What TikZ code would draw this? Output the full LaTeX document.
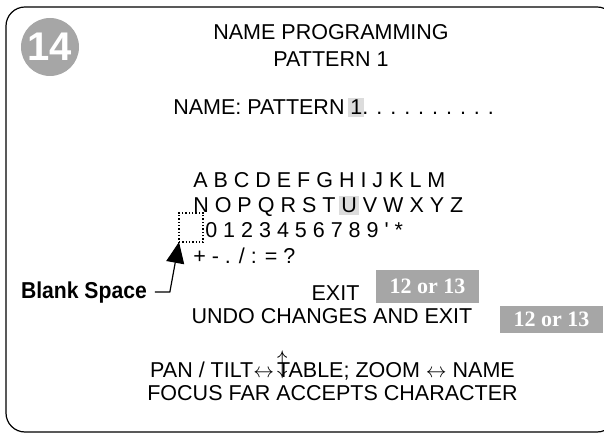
\documentclass[tikz,border=0pt]{standalone}
\usepackage{fontspec}
\setmainfont{Liberation Sans}
\newfontfamily\boxfont{Liberation Serif}
\newfontfamily\narrowfont[FakeStretch=0.92]{Liberation Sans}
\usetikzlibrary{arrows.meta}
\definecolor{stepgray}{HTML}{A6A6A6}
\definecolor{hlgray}{HTML}{DCDCDC}
\newcommand{\hlchar}[1]{{\setlength{\fboxsep}{2pt}\hspace{-2pt}\colorbox{hlgray}{#1}\hspace{-2pt}}}

\begin{document}
\begin{tikzpicture}[x=1pt, y=-1pt, >={Triangle[length=21pt, width=18pt]}, semithick]
            \tikzset{
                screen/.style={font=\fontsize{21.5}{25}\selectfont, inner sep=0pt},
                goto/.style={fill=stepgray, text=white, font=\boxfont\bfseries\fontsize{22}{22}\selectfont, minimum width=103pt, inner sep=0pt}
            };
            \useasboundingbox (0,0) rectangle (604,435);
            \clip (0,0) rectangle (604,435);
            \draw[line width=1.2pt, rounded corners=19pt] (6,7) rectangle (616,432);
            \node[circle, fill=stepgray, minimum size=58pt, inner sep=0pt, text=white, font=\bfseries\fontsize{40}{40}\selectfont] (num) at (50,47) {14};
            \node[screen, anchor=base] (title) at (331,40) {NAME PROGRAMMING};
            \node[screen, anchor=base] (pattern) at (331,67) {PATTERN 1};
            \node[screen, anchor=base west] (name) at (173,115) {NAME: PATTERN \hlchar{1}. . . . . . . . . .};
            \node[screen, anchor=base west] (rowa) at (193,188) {A B C D E F G H I J K L M};
            \node[screen, anchor=base west] (rown) at (193,213) {N O P Q R S T \hlchar{U} V W X Y Z};
            \node[screen, anchor=base west] (rowd) at (205,238) {0 1 2 3 4 5 6 7 8 9 \textquotesingle\ *};
            \node[screen, anchor=base west] (rows) at (193,263) {+ - . / : = ?};
            \node[draw, dotted, line width=1.3pt, minimum width=24pt, minimum height=29pt, inner sep=0pt, outer sep=0pt] (blankbox) at (191,227.5) {};
            % blank space pointer
            \node[anchor=base west, inner sep=0pt, outer xsep=8pt, font=\narrowfont\bfseries\fontsize{23}{23}\selectfont] (blank) at (13,298) {Blank Space};
            \draw[->, line width=1.2pt] (blank.east) -- ++(15,0) -- (blankbox.south west);
            \node[screen, anchor=base] (exit) at (335.5,300) {EXIT};
            \node[goto, minimum height=33pt] (gotoa) at (427.5,286.5) {12 or 13};
            \node[screen, anchor=base] (undo) at (332,323) {UNDO CHANGES AND EXIT};
            \node[goto, minimum height=27pt] (gotob) at (551.5,319.5) {12 or 13};
            \node[screen, anchor=base] (pan) at (332.5,377) {PAN / TILT$\leftrightarrow$\hspace{3pt}\rlap{\raisebox{5.4pt}{\scalebox{1}[1.3]{$\updownarrow$}}}TABLE; ZOOM $\leftrightarrow$ NAME};
            \node[screen, anchor=base] (focus) at (332.5,400) {FOCUS FAR ACCEPTS CHARACTER};
        \end{tikzpicture}
\end{document}
